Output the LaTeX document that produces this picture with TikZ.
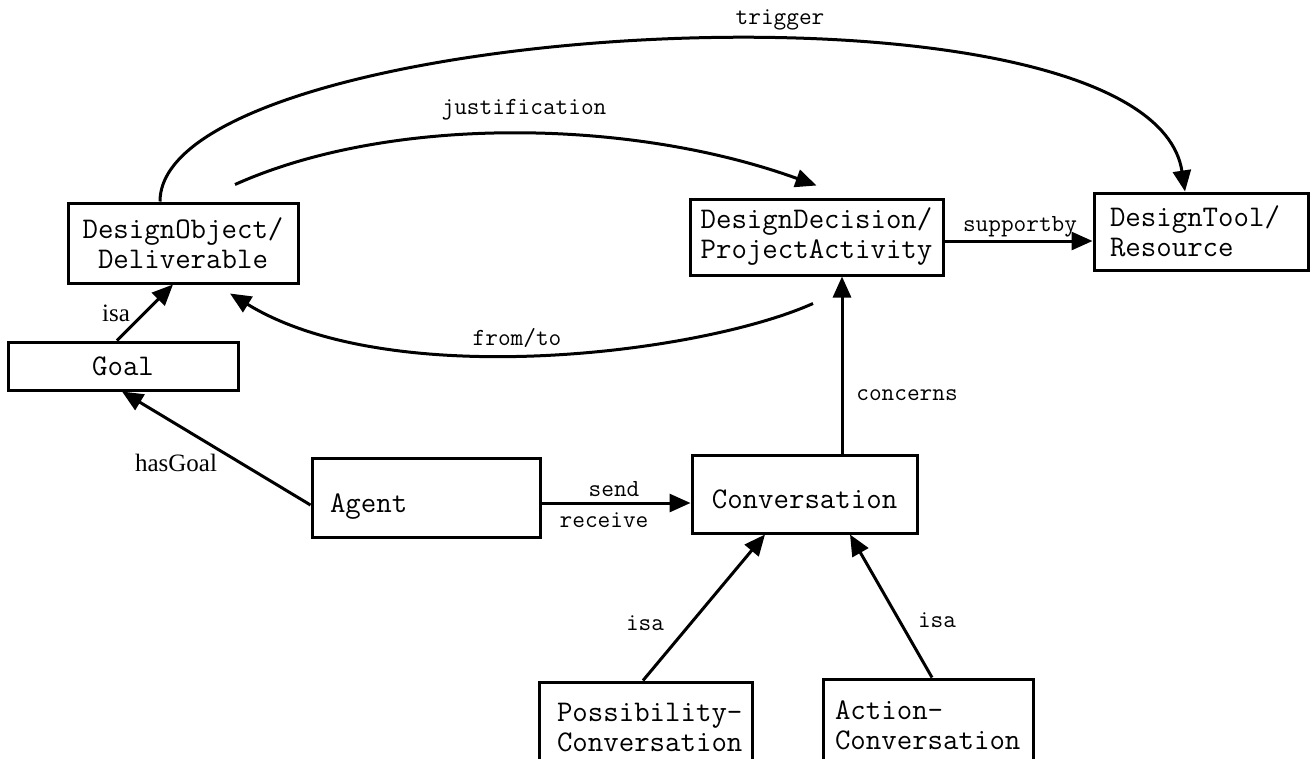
\documentclass[tikz,border=0pt]{standalone}
\usepackage{fontspec}
\newfontfamily\labserif{Liberation Serif}
\usetikzlibrary{arrows.meta}
\hfuzz=50pt
\begin{document}
\begin{tikzpicture}[x=1pt,y=-1pt,
  box/.style={draw, line width=3pt, inner sep=0pt,
    font=\ttfamily\fontsize{30}{30}\selectfont, align=center},
  lbox/.style={align=left},
  conn/.style={line width=3pt, -{Triangle[length=21pt,width=18pt]}},
  lbl/.style={font=\ttfamily\fontsize{24.6}{26}\selectfont, inner sep=0pt},
  slbl/.style={font=\labserif\fontsize{25}{27}\selectfont, inner sep=0pt}]
\useasboundingbox (0,0) rectangle (1313,758);
\fill[white] (0,0) rectangle (1313,758);

% concept boxes
\node[box, minimum width=230pt, minimum height=80pt] (dob) at (183,243) {DesignObject/\\Deliverable};
\node[box, minimum width=230pt, minimum height=48pt] (goal) at (123,366) {Goal};
\node[box, minimum width=253pt, minimum height=76pt] (ddec) at (816.5,237) {DesignDecision/\\ProjectActivity};
\node[box, lbox, minimum width=214pt, minimum height=77pt, text width=182pt] (dtool) at (1201,231.5) {DesignTool/\\Resource};
\node[box, lbox, minimum width=228pt, minimum height=79pt, text width=192pt] (agent) at (426,497.5) {\raisebox{-9pt}[\height][\depth]{Agent}};
\node[box, minimum width=225pt, minimum height=78pt] (conv) at (804.5,494) {\raisebox{-5pt}[\height][\depth]{Conversation}};
\node[box, lbox, minimum width=213pt, minimum height=91pt, text width=177pt] (poss) at (645.5,727.5) {Possibility-\\Conversation};
\node[box, lbox, minimum width=210pt, minimum height=92pt, text width=186pt] (act) at (928,725) {Action-\\Conversation};

% relations
\draw[conn] ([xshift=-23pt]dob.north) .. controls (160,20) and (1150,-40) .. ([xshift=-16pt]dtool.north);
\draw[conn] ([xshift=52pt,yshift=17pt]dob.north) .. controls (390,115) and (630,118) .. ([yshift=12pt]ddec.north);
\draw[conn] ([xshift=-3.5pt,yshift=-27pt]ddec.south) .. controls (700,354) and (390,392) .. ([xshift=47pt,yshift=-9pt]dob.south);
\draw[conn] ([yshift=-4pt]ddec.east) -- ([yshift=-9.5pt]dtool.west);
\draw[conn] ([xshift=37.5pt]conv.north) -- ([xshift=37.5pt]conv.north |- ddec.south);
\draw[conn] ([xshift=-6pt]goal.north) -- ([xshift=-10pt]dob.south);
\draw[conn] ([yshift=-7.5pt]agent.west) -- ([xshift=-1pt]goal.south);
\draw[conn] ([yshift=-5.5pt]agent.east) -- ([yshift=-9pt]conv.west);
\draw[conn] ([xshift=-2.5pt]poss.north) -- ([xshift=-39.5pt]conv.south);
\draw[conn] ([xshift=4pt]act.north) -- ([xshift=45.5pt]conv.south);

% relation labels
\node[lbl] (ltrig) at (780,20) {trigger};
\node[lbl] (ljust) at (524,110) {justification};
\node[lbl] (lfrom) at (517,338) {from/to};
\node[lbl] (lsup) at (1020,227) {supportby};
\node[lbl] (lconc) at (907,395) {concerns};
\node[lbl] (lsend) at (614,489) {send};
\node[lbl] (lrecv) at (604,520) {receive};
\node[slbl] (lisa1) at (116,313) {isa};
\node[slbl] (lhas) at (176,463) {hasGoal};
\node[lbl] (lisa2) at (645,623) {isa};
\node[lbl] (lisa3) at (937,620) {isa};
\end{tikzpicture}
\end{document}
